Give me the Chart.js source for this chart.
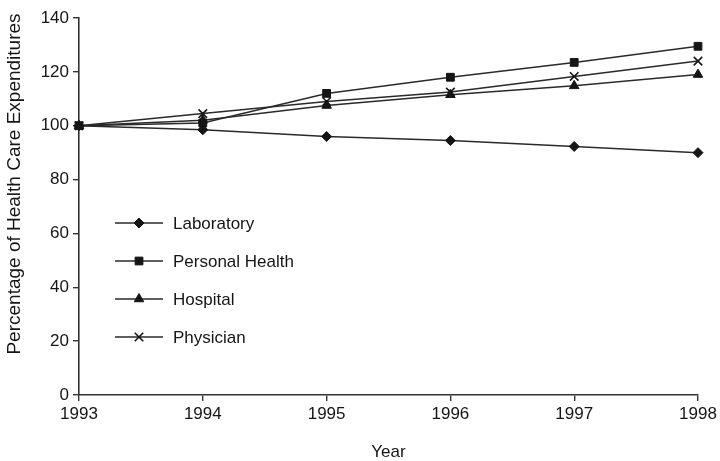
<!DOCTYPE html>
<html>
<head>
<meta charset="utf-8">
<script src="https://cdn.jsdelivr.net/npm/chart.js@4"></script>
<style>
  html, body { margin: 0; padding: 0; background: #fff; }
  #wrap { width: 720px; height: 461px; }
</style>
</head>
<body>
<div id="wrap"><canvas id="chartBiaya"></canvas></div>
<script>
// data
const years = ['1993', '1994', '1995', '1996', '1997', '1998'];
const laboratory = [100, 98.5, 96, 94.5, 92.3, 90];
const personalHealth = [100, 101, 112, 118, 123.5, 129.5];
const hospital = [100, 102, 107.5, 111.5, 114.8, 119];
const physician = [100, 104.5, 109, 112.5, 118.3, 124];
const yTicks = [0, 20, 40, 60, 80, 100, 120, 140];
const yJudul = 'Percentage of Health Care Expenditures';

const ink = '#151515';
const fontFam = '"Liberation Sans", Arial, sans-serif';

function seri(label, data, style, radius) {
    return {
        label: label,
        data: data,
        borderColor: '#2a2a2a',
        borderWidth: 1.5,
        pointStyle: style,
        pointRadius: radius,
        pointBackgroundColor: ink,
        pointBorderColor: ink,
        pointBorderWidth: style === 'crossRot' ? 1.6 : 1,
        tension: 0,
        fill: false
    };
}

// legend: line + marker, like the original figure
const legendGaris = {
    id: 'legendGaris',
    afterDraw(chart) {
        const ctx = chart.ctx;
        ctx.save();
        chart.data.datasets.forEach((ds, i) => {
            const y = 223 + i * 38;
            ctx.strokeStyle = '#2a2a2a';
            ctx.lineWidth = 1.5;
            ctx.beginPath();
            ctx.moveTo(115, y);
            ctx.lineTo(163, y);
            ctx.stroke();
            ctx.fillStyle = ink;
            ctx.strokeStyle = ink;
            ctx.lineWidth = ds.pointBorderWidth;
            Chart.helpers.drawPoint(ctx, {
                pointStyle: ds.pointStyle, radius: ds.pointRadius, rotation: 0, borderWidth: ds.pointBorderWidth
            }, 139, y);
            ctx.fillStyle = ink;
            ctx.font = '17px ' + fontFam;
            ctx.textBaseline = 'middle';
            ctx.textAlign = 'left';
            ctx.fillText(ds.label, 173, y + 1);
        });

        // judul sumbu Y (sedikit di atas tengah, seperti aslinya)
        ctx.translate(15, 184);
        ctx.rotate(-Math.PI / 2);
        ctx.font = '19px ' + fontFam;
        ctx.textAlign = 'center';
        ctx.textBaseline = 'middle';
        ctx.fillText(yJudul, 0, 0);
        ctx.restore();
    }
};

new Chart(document.getElementById('chartBiaya').getContext('2d'), {
    type: 'line',
    data: {
        labels: years,
        datasets: [
            seri('Laboratory', laboratory, 'rectRot', 5),
            seri('Personal Health', personalHealth, 'rect', 5.5),
            seri('Hospital', hospital, 'triangle', 5.5),
            seri('Physician', physician, 'crossRot', 6)
        ]
    },
    options: {
        responsive: true,
        maintainAspectRatio: false,
        animation: false,
        layout: { padding: { left: 0, right: 22, top: 18, bottom: 0 } },
        plugins: {
            legend: { display: false },
            tooltip: { enabled: false }
        },
        scales: {
            x: {
                offset: false,
                afterFit: s => { s.height = 66; },
                grid: { drawOnChartArea: false, drawTicks: true, tickLength: 6, color: '#333', lineWidth: 1.4 },
                border: { display: true, color: '#333', width: 1.6 },
                ticks: { color: ink, font: { family: fontFam, size: 17 }, padding: 3, maxRotation: 0 },
                title: { display: true, text: 'Year', color: ink, font: { family: fontFam, size: 17 }, padding: { top: 0, bottom: -2 } }
            },
            y: {
                min: 0,
                max: 140,
                afterFit: s => { s.width = 79; },
                afterBuildTicks: s => { s.ticks = yTicks.map(v => ({ value: v })); },
                grid: { drawOnChartArea: false, drawTicks: true, tickLength: 6, color: '#333', lineWidth: 1.4 },
                border: { display: true, color: '#333', width: 1.6 },
                ticks: { color: ink, font: { family: fontFam, size: 17 }, padding: 4 },
                title: { display: false }
            }
        }
    },
    plugins: [legendGaris]
});
</script>
</body>
</html>
